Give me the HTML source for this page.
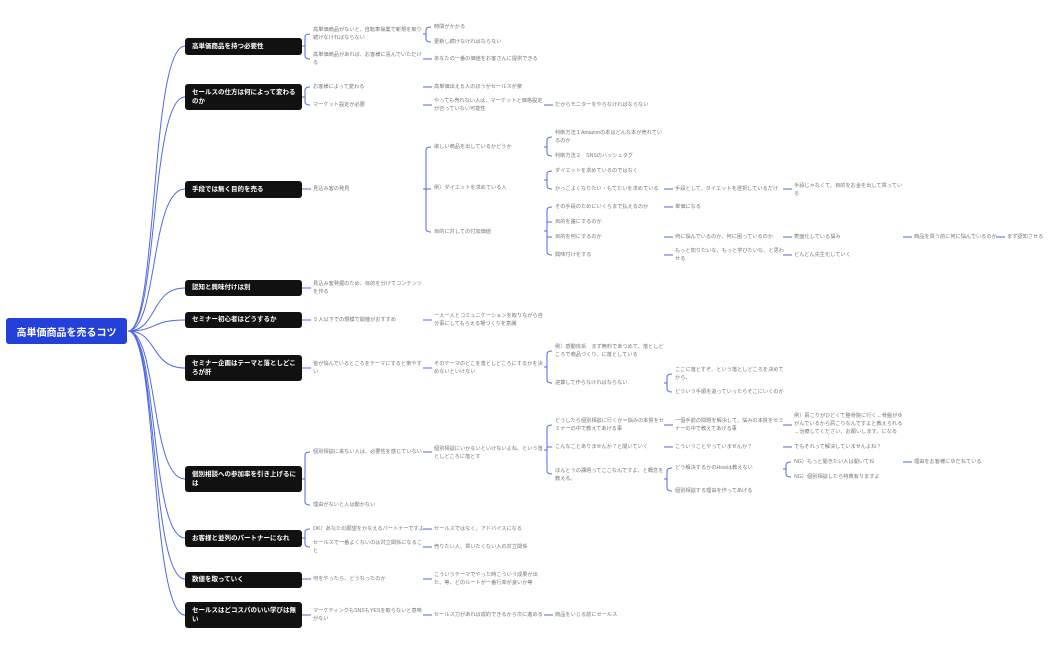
<!DOCTYPE html>
<html><head><meta charset="utf-8"><style>
body{margin:0;width:1050px;height:650px;background:#fff;position:relative;overflow:hidden;font-family:"Liberation Sans","Noto Sans CJK JP",sans-serif}
.n{position:absolute;font-size:5.2px;line-height:8px;color:#777;white-space:nowrap}
.b{position:absolute;left:185px;width:117px;background:#111;border-radius:3px;color:#fff;font-weight:bold;font-size:6.5px;line-height:9.5px;display:flex;align-items:center;padding-left:7px;box-sizing:border-box}
.r{position:absolute;left:6px;top:318px;width:121px;height:26px;background:#2340d8;border-radius:3px;color:#fff;font-weight:bold;font-size:10px;display:flex;align-items:center;justify-content:center}
svg{position:absolute;left:0;top:0}
</style></head><body>
<svg width="1050" height="650" fill="none" stroke="#5068e6" stroke-width="1">
<path d="M128 331C158 331 150 46 185 46M128 331C158 331 150 97 185 97M128 331C158 331 150 189 185 189M128 331C158 331 150 288 185 288M128 331C158 331 150 320 185 320M128 331C158 331 150 368 185 368M128 331C158 331 150 479 185 479M128 331C158 331 150 538 185 538M128 331C158 331 150 579 185 579M128 331C158 331 150 615 185 615"/>
<path d="M302 46H305M310 34Q305 34 305 37V56Q305 59 310 59
M423 34H426M431 27Q426 27 426 30V39Q426 42 431 42M423 59H432
M302 97H305M310 87Q305 87 305 90V102Q305 105 310 105M423 87H432M423 105H432M544 105H553
M302 189H311M423 189H426M431 147Q426 147 426 150V229Q426 232 431 232M426 189H431
M544 147H547M552 137Q547 137 547 140V153Q547 156 552 156
M544 180H547M552 171Q547 171 547 174V186Q547 189 552 189
M544 231H547M552 207Q547 207 547 210V252Q547 255 552 255M547 222H552M547 237H552
M664 189H673M783 189H792M664 207H673M664 237H673M783 237H792M903 237H912M996 237H1005M664 255H673M783 255H792
M302 288H311M302 320H311M423 320H432
M302 368H311M423 368H432M544 367H547M552 351Q547 351 547 354V380Q547 383 552 383
M664 383H667M672 374Q667 374 667 377V389Q667 392 672 392
M302 479H305M310 452Q305 452 305 455V502Q305 505 310 505M423 452H432
M544 450H547M552 425Q547 425 547 428V471Q547 474 552 474M547 447H552
M664 425H673M783 425H792M664 447H673M783 447H792
M664 479H667M672 468Q667 468 667 471V488Q667 491 672 491
M783 469H786M791 462Q786 462 786 465V474Q786 477 791 477M903 462H912
M302 538H305M310 529Q305 529 305 532V544Q305 547 310 547M423 529H432M423 547H432
M302 579H311M423 579H432M302 615H311M423 615H432M544 615H553"/>
</svg>
<div class="r">高単価商品を売るコツ</div>
<div class="b" style="top:38px;height:17px">高単価商品を持つ必要性</div>
<div class="b" style="top:84px;height:26px">セールスの仕方は何によって変わる<br>のか</div>
<div class="b" style="top:181px;height:17px">手段では無く目的を売る</div>
<div class="b" style="top:280px;height:16px">認知と興味付けは別</div>
<div class="b" style="top:312px;height:16px">セミナー初心者はどうするか</div>
<div class="b" style="top:355px;height:26px">セミナー企画はテーマと落としどこ<br>ろが肝</div>
<div class="b" style="top:466px;height:26px">個別相談への参加率を引き上げるに<br>は</div>
<div class="b" style="top:530px;height:17px">お客様と並列のパートナーになれ</div>
<div class="b" style="top:572px;height:16px">数値を取っていく</div>
<div class="b" style="top:602px;height:26px">セールスはどコスパのいい学びは無<br>い</div>

<div class="n" style="left:313px;top:26px">高単価商品がないと、自転車操業で新規を取り<br>続けなければならない</div>
<div class="n" style="left:434px;top:23px">時間がかかる</div>
<div class="n" style="left:434px;top:38px">更新し続けなければならない</div>
<div class="n" style="left:313px;top:51px">高単価商品があれば、お客様に喜んでいただけ<br>る</div>
<div class="n" style="left:434px;top:55px">あなたの一番の価値をお客さんに提供できる</div>

<div class="n" style="left:313px;top:83px">お客様によって変わる</div>
<div class="n" style="left:434px;top:83px">高単価出える人のほうがセールスが楽</div>
<div class="n" style="left:313px;top:101px">マーケット設定が必要</div>
<div class="n" style="left:434px;top:97px">やっても売れない人は、マーケットと価格設定<br>が合っていない可能性</div>
<div class="n" style="left:555px;top:101px">だからモニターをやらなければならない</div>

<div class="n" style="left:313px;top:185px">見込み客の発見</div>
<div class="n" style="left:434px;top:143px">欲しい商品を出しているかどうか</div>
<div class="n" style="left:434px;top:184px">例）ダイエットを求めている人</div>
<div class="n" style="left:434px;top:228px">目的に対しての付加価値</div>
<div class="n" style="left:555px;top:129px">判断方法１Amazonの本はどんな本が売れてい<br>るのか</div>
<div class="n" style="left:555px;top:152px">判断方法２　SNSのハッシュタグ</div>
<div class="n" style="left:555px;top:167px">ダイエットを求めているのではなく</div>
<div class="n" style="left:555px;top:185px">かっこよくなりたい・もてたいを求めている</div>
<div class="n" style="left:675px;top:185px">手段として、ダイエットを選択しているだけ</div>
<div class="n" style="left:794px;top:182px">手段じゃなくて、目的をお金を出して買ってい<br>る</div>
<div class="n" style="left:555px;top:203px">その手段のためにいくらまで払えるのか</div>
<div class="n" style="left:675px;top:203px">単価になる</div>
<div class="n" style="left:555px;top:218px">目的を誰にするのか</div>
<div class="n" style="left:555px;top:233px">目的を何にするのか</div>
<div class="n" style="left:675px;top:233px">何に悩んでいるのか、何に困っているのか</div>
<div class="n" style="left:794px;top:233px">表面化している悩み</div>
<div class="n" style="left:914px;top:233px">商品を買う前に何に悩んでいるのか</div>
<div class="n" style="left:1007px;top:233px">まず認知させる</div>
<div class="n" style="left:555px;top:251px">興味付けをする</div>
<div class="n" style="left:675px;top:247px">もっと知りたいな、もっと学びたいな、と思わ<br>せる</div>
<div class="n" style="left:794px;top:251px">どんどん先生化していく</div>

<div class="n" style="left:313px;top:280px">見込み客発掘のため、目的を分けてコンテンツ<br>を作る</div>
<div class="n" style="left:313px;top:316px">５人以下での規模で開催がおすすめ</div>
<div class="n" style="left:434px;top:312px">一人一人とコミュニケーションを取りながら自<br>分事にしてもらえる場づくりを意識</div>

<div class="n" style="left:313px;top:360px">皆が悩んでいるところをテーマにすると楽やす<br>い</div>
<div class="n" style="left:434px;top:360px">そのテーマのどこを落としどころにするかを決<br>めないといけない</div>
<div class="n" style="left:555px;top:343px">例）感動体系　まず無料であつめて、落としど<br>ころで商品づくり、に落としている</div>
<div class="n" style="left:555px;top:379px">逆算して作らなければならない</div>
<div class="n" style="left:675px;top:366px">ここに落とすぞ、という落としどころを決めて<br>から、</div>
<div class="n" style="left:675px;top:388px">どういう手順を追っていったらそこにいくのか</div>

<div class="n" style="left:313px;top:448px">個別相談に来ない人は、必要性を感じていない</div>
<div class="n" style="left:434px;top:445px">個別相談にいかないといけないよね、という落<br>としどころに落とす</div>
<div class="n" style="left:555px;top:417px">どうしたら個別相談に行くか＝悩みの本質をセ<br>ミナーの中で教えてあげる事</div>
<div class="n" style="left:675px;top:417px">一個手前の問題を解決して、悩みの本質をセミ<br>ナーの中で教えてあげる事</div>
<div class="n" style="left:794px;top:412px">例）肩こりがひどくて整骨院に行く→骨盤がゆ<br>がんでいるから肩こりなんですよと教えられる<br>→治療してください、お願いします、になる</div>
<div class="n" style="left:555px;top:443px">こんなことありませんか？と聞いていく</div>
<div class="n" style="left:675px;top:443px">こういうことやっていませんか？</div>
<div class="n" style="left:794px;top:443px">でもそれって解決していませんよね？</div>
<div class="n" style="left:555px;top:467px">ほんとうの課題ってここなんですよ、と概念を<br>教える。</div>
<div class="n" style="left:675px;top:464px">どう解決するかのHowは教えない</div>
<div class="n" style="left:794px;top:458px">NG）もっと聞きたい人は聞いてね</div>
<div class="n" style="left:914px;top:458px">理由をお客様にゆだねている</div>
<div class="n" style="left:794px;top:473px">NG）個別相談したら特典有りますよ</div>
<div class="n" style="left:675px;top:487px">個別相談する理由を作ってあげる</div>
<div class="n" style="left:313px;top:501px">理由がないと人は動かない</div>

<div class="n" style="left:313px;top:525px">OK）あなたの願望をかなえるパートナーですよ</div>
<div class="n" style="left:434px;top:525px">セールスではなく、アドバイスになる</div>
<div class="n" style="left:313px;top:539px">セールスで一番よくないのは対立関係になるこ<br>と</div>
<div class="n" style="left:434px;top:543px">売りたい人、買いたくない人の対立関係</div>
<div class="n" style="left:313px;top:575px">何をやったら、どうなったのか</div>
<div class="n" style="left:434px;top:571px">こういうテーマでやった時こういう成果が出<br>た、等、どのルートが一番行率が良いか等</div>
<div class="n" style="left:313px;top:607px">マーケティングもSNSもYESを取らないと意味<br>がない</div>
<div class="n" style="left:434px;top:611px">セールス力があれば成約できるから次に進める</div>
<div class="n" style="left:555px;top:611px">商品をいじる前にセールス</div>
</body></html>
